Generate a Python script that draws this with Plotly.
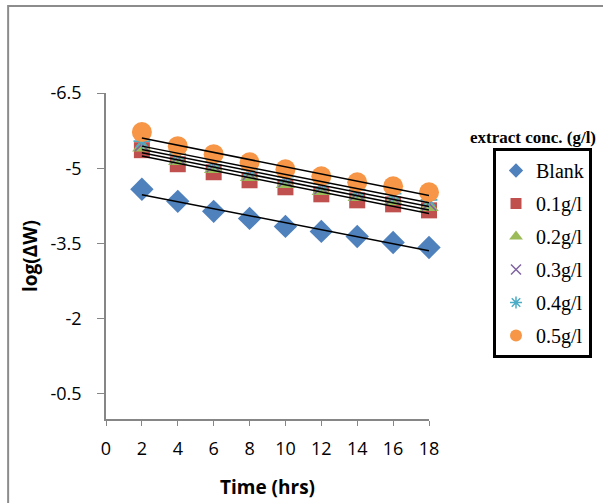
import numpy as np
import plotly.graph_objects as go

time_hrs = [2, 4, 6, 8, 10, 12, 14, 16, 18]
series_names = ["Blank", "0.1g/l", "0.2g/l", "0.3g/l", "0.4g/l", "0.5g/l"]
blank = [-4.58, -4.34, -4.14, -4.00, -3.84, -3.74, -3.64, -3.52, -3.42]
c01 = [-5.36, -5.08, -4.92, -4.76, -4.62, -4.48, -4.36, -4.28, -4.16]
c02 = [-5.42, -5.15, -4.99, -4.83, -4.69, -4.55, -4.43, -4.35, -4.23]
c03 = [-5.48, -5.22, -5.06, -4.90, -4.76, -4.62, -4.50, -4.42, -4.30]
c04 = [-5.54, -5.29, -5.13, -4.97, -4.83, -4.69, -4.57, -4.49, -4.37]
c05 = [-5.72, -5.44, -5.28, -5.12, -4.98, -4.84, -4.72, -4.64, -4.52]
y_ticks = [-6.5, -5, -3.5, -2, -0.5]
x_ticks = [0, 2, 4, 6, 8, 10, 12, 14, 16, 18]

values = [blank, c01, c02, c03, c04, c05]
colors = ["#4F81BD", "#C0504D", "#9BBB59", "#8064A2", "#4BACC6", "#F79646"]
symbols = ["diamond", "square", "triangle-up", "x-thin-open", "asterisk-open", "circle"]
sizes = [18, 16, 17, 14, 14, 20]
leg_sizes = [11, 11, 12, 10, 10, 12]

fig = go.Figure()
for i, (name, vals) in enumerate(zip(series_names, values)):
    open_sym = symbols[i].endswith("open")
    fig.add_trace(go.Scatter(
        x=time_hrs, y=vals, mode="markers", name=name, showlegend=False, cliponaxis=False,
        marker=dict(symbol=symbols[i], size=sizes[i], color=colors[i],
                    line=dict(width=1.6 if open_sym else 0, color=colors[i])),
    ))

# linear trendlines
for vals in values:
    k, b = np.polyfit(time_hrs, vals, 1)
    xs = [time_hrs[0], time_hrs[-1]]
    fig.add_trace(go.Scatter(x=xs, y=[k * xs[0] + b, k * xs[1] + b], mode="lines",
                             line=dict(color="black", width=1.5), showlegend=False,
                             cliponaxis=False, hoverinfo="skip"))

# legend entries
for i, name in enumerate(series_names):
    open_sym = symbols[i].endswith("open")
    fig.add_trace(go.Scatter(
        x=[None], y=[None], mode="markers", name=name, legendgroup=name,
        marker=dict(symbol=symbols[i], size=leg_sizes[i], color=colors[i],
                    line=dict(width=1.5 if open_sym else 0, color=colors[i])),
    ))

axis_font = dict(family="Open Sans, Noto Sans, sans-serif", size=18, color="black")
title_font = dict(family="Open Sans, sans-serif", size=19, color="black")
fig.update_layout(
    width=603, height=503,
    margin=dict(l=106, r=174, t=93, b=84, autoexpand=False),
    plot_bgcolor="white", paper_bgcolor="white",
    showlegend=True,
    legend=dict(x=(493 - 106) / 323, y=(419 - 148) / 326, xanchor="left", yanchor="top",
                bordercolor="black", borderwidth=3, bgcolor="white",
                font=dict(family="Liberation Serif, Times New Roman, serif", size=20, color="black"),
                tracegroupgap=4, itemwidth=30),
    xaxis=dict(range=[0, 18], tickvals=x_ticks, ticks="outside", ticklen=5, automargin=False,
               tickcolor="#868686", showline=True, linecolor="#868686", linewidth=1.5,
               showgrid=False, zeroline=False, tickfont=axis_font, ticklabelstandoff=8,
               title=dict(text="<b>Time (hrs)</b>", font=title_font, standoff=21)),
    yaxis=dict(range=[0, -6.5], tickvals=y_ticks, ticktext=[str(t) for t in y_ticks],
               ticks="outside", ticklen=7, automargin=False,
               tickcolor="#868686", showline=True, linecolor="#868686", linewidth=1.5,
               showgrid=False, zeroline=False, tickfont=axis_font, ticklabelstandoff=12,
               title=dict(text="<b>log(ΔW)</b>", font=title_font, standoff=8)),
    shapes=[dict(type="rect", xref="paper", yref="paper", x0=-0.303, x1=1.95, y0=-0.4, y1=1.267,
                 line=dict(color="#8C8C8C", width=2), layer="below")],
    annotations=[dict(text="<b>extract conc. (g/l)</b>", xref="paper", yref="paper",
                      x=(533 - 106) / 323, y=(419 - 137) / 326, xanchor="center", yanchor="middle",
                      showarrow=False,
                      font=dict(family="Liberation Serif, Times New Roman, serif", size=17, color="black"))],
)
fig.write_html("out.html")
